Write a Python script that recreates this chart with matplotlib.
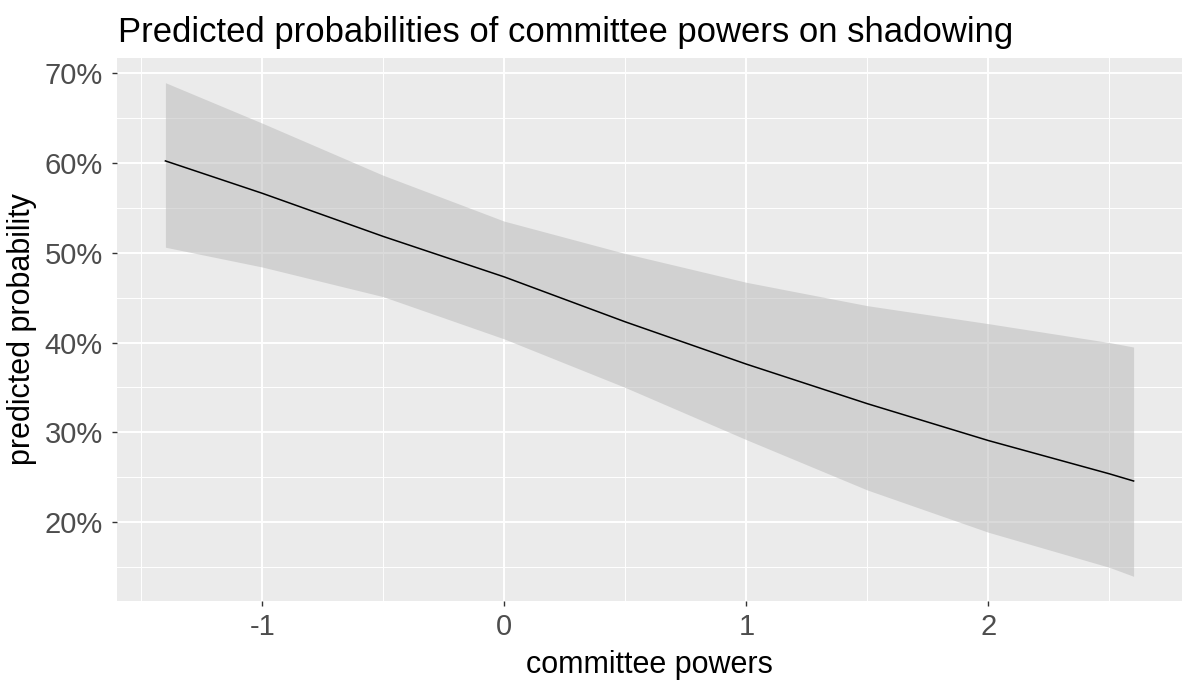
import matplotlib
matplotlib.use("Agg")
import matplotlib.pyplot as plt
from matplotlib.ticker import FixedLocator, FuncFormatter

# predicted probability (%) with confidence band
powers = [-1.4, -1.0, -0.5, 0.0, 0.5, 1.0, 1.5, 2.0, 2.5, 2.6]
predicted = [60.2, 56.6, 51.8, 47.3, 42.3, 37.6, 33.2, 29.1, 25.4, 24.6]
upper = [68.9, 64.4, 58.6, 53.5, 49.9, 46.7, 44.1, 42.1, 40.0, 39.5]
lower = [50.6, 48.4, 45.1, 40.4, 35.0, 29.2, 23.6, 18.9, 15.0, 14.0]

x_ticks = [-1, 0, 1, 2]
y_ticks = [20, 30, 40, 50, 60, 70]

plt.rcParams["font.family"] = ["Liberation Sans", "DejaVu Sans"]

fig = plt.figure(figsize=(11.82, 6.84), dpi=100)
W, H = 1182, 684
ax = fig.add_axes([117 / W, 1 - 601 / H, (W - 117) / W, (601 - 58) / H])

ax.set_facecolor("#EBEBEB")
for s in ax.spines.values():
    s.set_visible(False)

ax.fill_between(powers, lower, upper, color="#B8B8B8", alpha=0.5, linewidth=0, zorder=3)
ax.plot(powers, predicted, color="black", linewidth=1.1, zorder=4)

# ggplot-style expansion of the data range
xr = max(powers) - min(powers)
ax.set_xlim(min(powers) - 0.05 * xr, max(powers) + 0.05 * xr)
yr = max(upper) - min(lower)
ax.set_ylim(min(lower) - 0.05 * yr, max(upper) + 0.05 * yr)

ax.xaxis.set_major_locator(FixedLocator(x_ticks))
ax.xaxis.set_minor_locator(FixedLocator([-1.5, -0.5, 0.5, 1.5, 2.5]))
ax.yaxis.set_major_locator(FixedLocator(y_ticks))
ax.yaxis.set_minor_locator(FixedLocator([15, 25, 35, 45, 55, 65]))
ax.yaxis.set_major_formatter(FuncFormatter(lambda v, _: f"{v:.0f}%"))
ax.xaxis.set_major_formatter(FuncFormatter(lambda v, _: f"{v:.0f}"))

ax.grid(which="major", color="white", linewidth=1.4, zorder=1)
ax.grid(which="minor", color="white", linewidth=0.7, zorder=1)
ax.set_axisbelow(True)

ax.tick_params(which="major", length=3.6, width=1, color="#333333",
               labelsize=21, labelcolor="#4D4D4D")
ax.tick_params(axis="x", which="major", pad=5)
ax.tick_params(axis="y", which="major", pad=6.5)
ax.tick_params(which="minor", length=0)

ax.set_xlabel("committee powers", fontsize=22, color="black", va="baseline")
ax.xaxis.set_label_coords(0.5, (601 - 673) / 543)
ax.set_ylabel("predicted probability", fontsize=22, color="black", va="baseline")
ax.yaxis.set_label_coords((30 - 117) / 1065, 0.5)
fig.text(118 / W, 1 - 42 / H, "Predicted probabilities of committee powers on shadowing",
         fontsize=24.9, color="black", ha="left", va="baseline")

fig.savefig("out.png", dpi=100)
